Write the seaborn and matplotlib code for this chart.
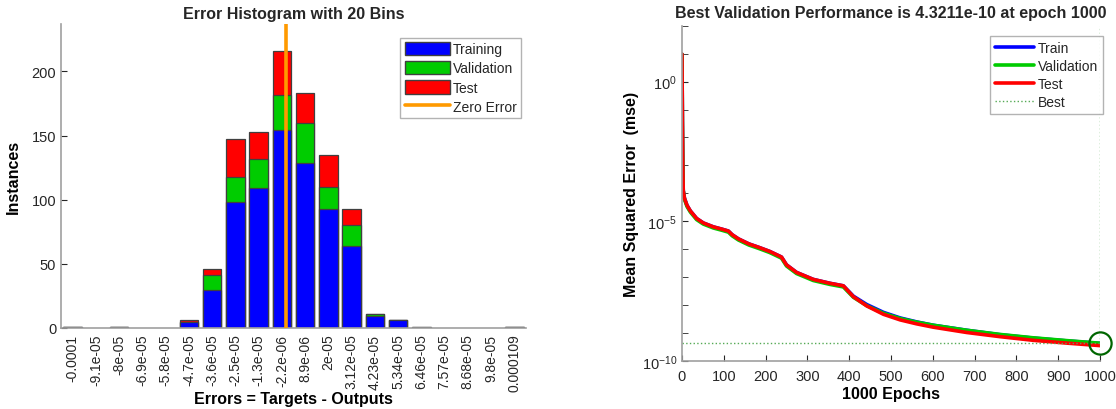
import numpy as np
import pandas as pd
import matplotlib
matplotlib.use("Agg")
import matplotlib.pyplot as plt
import matplotlib.ticker as mticker
from matplotlib.lines import Line2D
from matplotlib.patches import Patch
import seaborn as sns

# ---------------- data: error histogram ----------------
bin_labels = ["-0.0001", "-9.1e-05", "-8e-05", "-6.9e-05", "-5.8e-05", "-4.7e-05",
              "-3.6e-05", "-2.5e-05", "-1.3e-05", "-2.2e-06", "8.9e-06", "2e-05",
              "3.12e-05", "4.23e-05", "5.34e-05", "6.46e-05", "7.57e-05", "8.68e-05",
              "9.8e-05", "0.000109"]
bin_centers = [-0.0001, -9.1e-05, -8e-05, -6.9e-05, -5.8e-05, -4.7e-05,
               -3.6e-05, -2.5e-05, -1.3e-05, -2.2e-06, 8.9e-06, 2e-05,
               3.12e-05, 4.23e-05, 5.34e-05, 6.46e-05, 7.57e-05, 8.68e-05,
               9.8e-05, 0.000109]
train_counts = [1, 0, 1, 0, 0, 5, 30, 98, 109, 154, 129, 93, 64, 9, 6, 0, 0, 0, 0, 1]
val_counts   = [0, 0, 0, 0, 0, 0, 11, 20, 23, 28, 31, 17, 16, 2, 0, 1, 0, 0, 0, 0]
test_counts  = [0, 0, 0, 0, 0, 1, 5, 29, 21, 34, 23, 25, 13, 0, 0, 0, 0, 0, 0, 0]
zero_error = 0.0

# ---------------- data: performance curves (log10 mse) ----------------
epochs = [0, 1, 2, 3, 6, 12, 20, 35, 51, 75, 95, 111, 120, 135, 160, 185, 210, 238,
          250, 274, 314, 354, 386, 410, 442, 482, 522, 561, 601, 681, 761, 840, 920, 1000]
val_log = [0.98, -1.45, -3.0, -3.9, -4.22, -4.47, -4.67, -4.94, -5.10, -5.24, -5.32, -5.39,
           -5.52, -5.67, -5.85, -5.98, -6.12, -6.32, -6.60, -6.87, -7.12, -7.26, -7.35,
           -7.72, -8.02, -8.29, -8.48, -8.61, -8.72, -8.90, -9.05, -9.17, -9.27, -9.364]
train_log = [0.98, -1.45, -3.0, -3.9, -4.18, -4.43, -4.63, -4.90, -5.06, -5.20, -5.28, -5.35,
             -5.48, -5.63, -5.81, -5.94, -6.08, -6.28, -6.56, -6.83, -7.08, -7.22, -7.31,
             -7.68, -7.98, -8.26, -8.46, -8.60, -8.72, -8.90, -9.06, -9.18, -9.28, -9.37]
test_log = [0.98, -1.45, -3.0, -3.9, -4.18, -4.43, -4.63, -4.90, -5.06, -5.20, -5.28, -5.35,
            -5.48, -5.63, -5.81, -5.94, -6.08, -6.28, -6.56, -6.83, -7.08, -7.22, -7.31,
            -7.70, -8.03, -8.33, -8.53, -8.67, -8.79, -8.98, -9.13, -9.26, -9.36, -9.45]
best_epoch = 1000
best_perf = 4.3211e-10

# ---------------- style ----------------
sns.set_style("white")
plt.rcParams['font.family'] = ['Liberation Sans', 'DejaVu Sans']
plt.rcParams['mathtext.default'] = 'regular'
txt = '#262626'
axc = '#a0a0a0'

fig = plt.figure(figsize=(11.16, 4.10), dpi=100)
ax1 = fig.add_axes([0.0547, 0.1976, 0.4166, 0.7415])
ax2 = fig.add_axes([0.6111, 0.1171, 0.3746, 0.8178])

# ---------------- left: stacked histogram ----------------
tot = np.array(train_counts) + np.array(val_counts) + np.array(test_counts)
tv = np.array(train_counts) + np.array(val_counts)
df = pd.DataFrame({"bin": bin_labels, "total": tot, "tv": tv, "train": train_counts})
common = dict(x="bin", order=bin_labels, width=0.8, saturation=1,
              edgecolor='#404040', linewidth=0.9, ax=ax1, errorbar=None)
sns.barplot(data=df, y="total", color='#ff0000', **common)
sns.barplot(data=df, y="tv", color='#00cc00', **common)
sns.barplot(data=df, y="train", color='#0000ff', **common)
for p in ax1.patches:
    if p.get_height() == 0:
        p.set_visible(False)
zero_pos = np.interp(zero_error, bin_centers, np.arange(len(bin_centers)))
ax1.axvline(zero_pos, color='#ff9a00', lw=2.6, zorder=5)

ax1.set_xlim(-0.5, len(bin_labels) - 0.5)
ax1.set_ylim(0, 237)
ax1.set_yticks([0, 50, 100, 150, 200])
ax1.tick_params(axis='x', rotation=90, labelsize=10, colors=txt, length=0, pad=4)
ax1.tick_params(axis='y', labelsize=10.5, colors=txt, direction='in', length=4, left=True)
ax1.set_xlabel("Errors = Targets - Outputs", fontsize=11.5, fontweight='bold', color='black', labelpad=0)
ax1.set_ylabel("Instances", fontsize=11.5, fontweight='bold', color='black', labelpad=8)
ax1.set_title("Error Histogram with 20 Bins", fontsize=11.5, fontweight='bold', color=txt, pad=4)
for s in ['top', 'right']:
    ax1.spines[s].set_visible(False)
for s in ['left', 'bottom']:
    ax1.spines[s].set_color(axc)
    ax1.spines[s].set_linewidth(1.2)

h1 = [Patch(facecolor='#0000ff', edgecolor='#404040', label='Training'),
      Patch(facecolor='#00cc00', edgecolor='#404040', label='Validation'),
      Patch(facecolor='#ff0000', edgecolor='#404040', label='Test'),
      Line2D([0], [0], color='#ff9a00', lw=2.6, label='Zero Error')]
leg1 = ax1.legend(handles=h1, loc='upper left', bbox_to_anchor=(0.73, 0.955), fontsize=10,
                  frameon=True, fancybox=False, edgecolor='#a0a0a0', handlelength=3.3,
                  handleheight=1.1, handletextpad=0.2, labelspacing=0.35, borderpad=0.3,
                  borderaxespad=0)
leg1.get_frame().set_linewidth(1.0)

# ---------------- right: performance ----------------
curves = pd.DataFrame({"epoch": epochs,
                       "Train": np.power(10.0, train_log),
                       "Validation": np.power(10.0, val_log),
                       "Test": np.power(10.0, test_log)})
sns.lineplot(data=curves, x="epoch", y="Train", color='#0000ff', lw=2.6, ax=ax2, label='Train')
sns.lineplot(data=curves, x="epoch", y="Validation", color='#00cc00', lw=2.6, ax=ax2, label='Validation')
sns.lineplot(data=curves, x="epoch", y="Test", color='#ff0000', lw=2.6, ax=ax2, label='Test')
ax2.axhline(best_perf, color='#55aa55', lw=1.0, ls=':', label='Best')
ax2.axvline(best_epoch, color='#55aa55', lw=1.0, ls=':')
ax2.plot([best_epoch], [best_perf], marker='o', ms=16, mfc='none', mec='#006600',
         mew=1.6, clip_on=False, zorder=6)

ax2.set_yscale('log')
ax2.set_xlim(0, 1000)
ax2.set_ylim(1e-10, 1e2)
ax2.set_xticks(np.arange(0, 1001, 100))
ax2.yaxis.set_major_locator(mticker.FixedLocator([1e-10, 1e-5, 1e0]))
ax2.yaxis.set_major_formatter(mticker.FuncFormatter(lambda v, p: r"$10^{%d}$" % round(np.log10(v))))
ax2.yaxis.set_minor_locator(mticker.FixedLocator([10.0 ** k for k in range(-10, 3)]))
ax2.yaxis.set_minor_formatter(mticker.NullFormatter())
ax2.tick_params(axis='x', labelsize=10.5, colors=txt, direction='in', length=4, bottom=True, pad=6)
ax2.tick_params(axis='y', which='both', labelsize=10.5, colors=txt, direction='in', length=4, left=True)
ax2.set_xlabel("1000 Epochs", fontsize=11.5, fontweight='bold', color='black', labelpad=2)
ax2.set_ylabel("Mean Squared Error  (mse)", fontsize=11.5, fontweight='bold', color='black', labelpad=2)
ax2.set_title("Best Validation Performance is 4.3211e-10 at epoch 1000", fontsize=11.5,
              fontweight='bold', color=txt, pad=6)
for s in ['top', 'right']:
    ax2.spines[s].set_visible(False)
for s in ['left', 'bottom']:
    ax2.spines[s].set_color(axc)
    ax2.spines[s].set_linewidth(1.2)

leg2 = ax2.legend(loc='upper left', bbox_to_anchor=(0.737, 0.97), fontsize=10,
                  frameon=True, fancybox=False, edgecolor='#a0a0a0', handlelength=2.8,
                  handletextpad=0.3, labelspacing=0.3, borderpad=0.35, borderaxespad=0)
leg2.get_frame().set_linewidth(1.0)

fig.savefig("out.png", dpi=100, facecolor='white')
